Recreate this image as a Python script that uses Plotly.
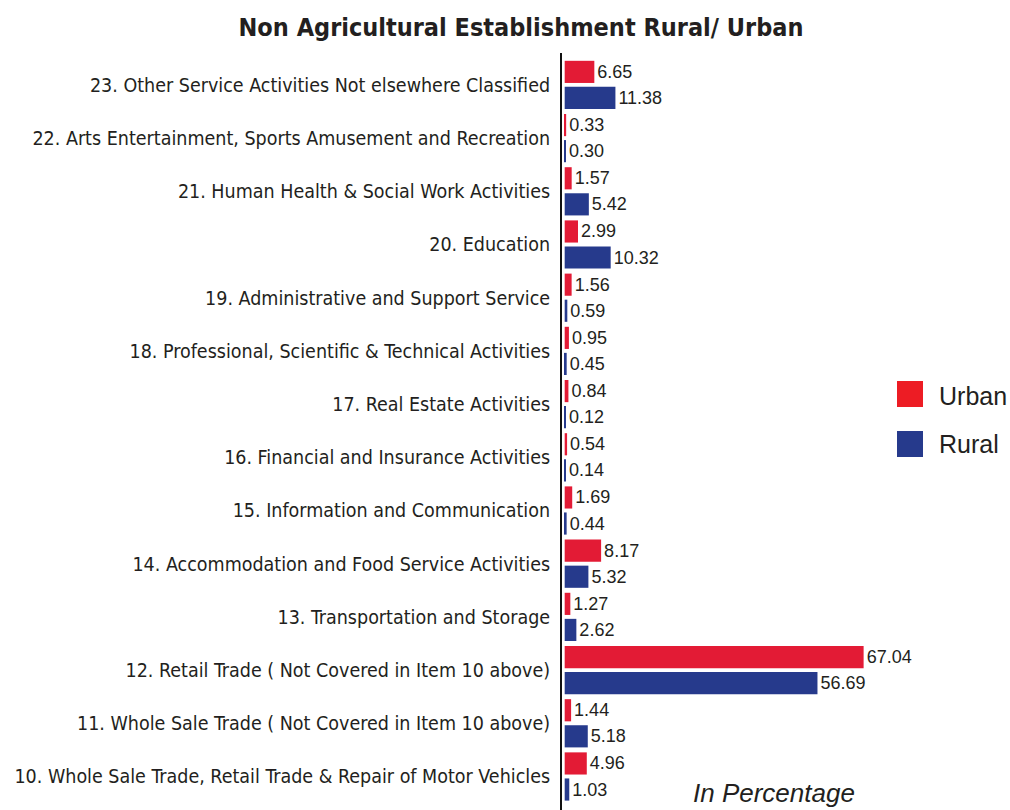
import plotly.graph_objects as go

categories = [
    "10. Whole Sale Trade, Retail Trade & Repair of Motor Vehicles",
    "11. Whole Sale Trade ( Not Covered in Item 10 above)",
    "12. Retail Trade ( Not Covered in Item 10 above)",
    "13. Transportation and Storage",
    "14. Accommodation and Food Service Activities",
    "15. Information and Communication",
    "16. Financial and Insurance Activities",
    "17. Real Estate Activities",
    "18. Professional, Scientific & Technical Activities",
    "19. Administrative and Support Service",
    "20. Education",
    "21. Human Health & Social Work Activities",
    "22. Arts Entertainment, Sports Amusement and Recreation",
    "23. Other Service Activities Not elsewhere Classified",
]
urban = [4.96, 1.44, 67.04, 1.27, 8.17, 1.69, 0.54, 0.84, 0.95, 1.56, 2.99, 1.57, 0.33, 6.65]
rural = [1.03, 5.18, 56.69, 2.62, 5.32, 0.44, 0.14, 0.12, 0.45, 0.59, 10.32, 5.42, 0.30, 11.38]

RED = "#E31B35"
BLUE = "#263A8C"
TXT = "#231F20"
NARROW = "Liberation Sans Narrow, Arial Narrow, DejaVu Sans Condensed, sans-serif"
REG = "Liberation Sans, Arial, sans-serif"

fig = go.Figure()
fig.add_trace(go.Bar(
    y=categories, x=rural, orientation="h", name="Rural",
    marker=dict(color=BLUE, line=dict(width=0)),
    text=[f"{v:.2f}" for v in rural], textposition="outside",
    textfont=dict(size=18, color=TXT, family=REG), cliponaxis=False,
    showlegend=False,
))
fig.add_trace(go.Bar(
    y=categories, x=urban, orientation="h", name="Urban",
    marker=dict(color=RED, line=dict(width=0)),
    text=[f"{v:.2f}" for v in urban], textposition="outside",
    textfont=dict(size=18, color=TXT, family=REG), cliponaxis=False,
    showlegend=False,
))

L, R, T, B = 562, 44, 53, 0
W, H = 1010, 810
pw = W - L - R
ph = H - T - B

def px(x):
    return (x - L) / pw

def py(y):
    return (H - B - y) / ph

shapes = [
    dict(type="rect", xref="paper", yref="paper", x0=px(897), x1=px(923), y0=py(407), y1=py(381),
         fillcolor="#ED1C24", line=dict(width=0)),
    dict(type="rect", xref="paper", yref="paper", x0=px(897), x1=px(923), y0=py(457), y1=py(431),
         fillcolor=BLUE, line=dict(width=0)),
]
annotations = [
    dict(text="Urban", xref="paper", yref="paper", x=px(937), y=py(396), xanchor="left", yanchor="middle",
         showarrow=False, font=dict(size=25, color=TXT, family=REG)),
    dict(text="Rural", xref="paper", yref="paper", x=px(937), y=py(444), xanchor="left", yanchor="middle",
         showarrow=False, font=dict(size=25, color=TXT, family=REG)),
    dict(text="<i>In Percentage</i>", xref="paper", yref="paper", x=px(774), y=py(793),
         xanchor="center", yanchor="middle", showarrow=False,
         font=dict(size=26, color=TXT, family=REG)),
]

fig.update_layout(
    width=W, height=H,
    margin=dict(l=L, r=R, t=T, b=B, autoexpand=False),
    paper_bgcolor="white", plot_bgcolor="white",
    barmode="group", bargap=0.02, bargroupgap=0.15,
    title=dict(text="<b>Non Agricultural Establishment Rural/ Urban</b>",
               x=521 / W, xref="container", xanchor="center",
               y=1 - 27 / H, yref="container", yanchor="middle",
               font=dict(size=25, color=TXT, family=NARROW)),
    shapes=shapes, annotations=annotations,
    showlegend=False,
)
fig.update_xaxes(range=[-0.6, 90], visible=False, showgrid=False, zeroline=False)
fig.update_yaxes(type="category", categoryorder="array", categoryarray=categories,
                 range=[-0.63, 13.60], showline=True, linecolor="#111", linewidth=2,
                 showgrid=False, zeroline=False, ticks="", ticklabelstandoff=6,
                 automargin=False,
                 tickfont=dict(size=19.5, color=TXT, family=NARROW))

fig.write_html("out.html", config={"displayModeBar": False},
               post_script="document.body.style.margin='0';document.body.style.overflow='hidden';")
